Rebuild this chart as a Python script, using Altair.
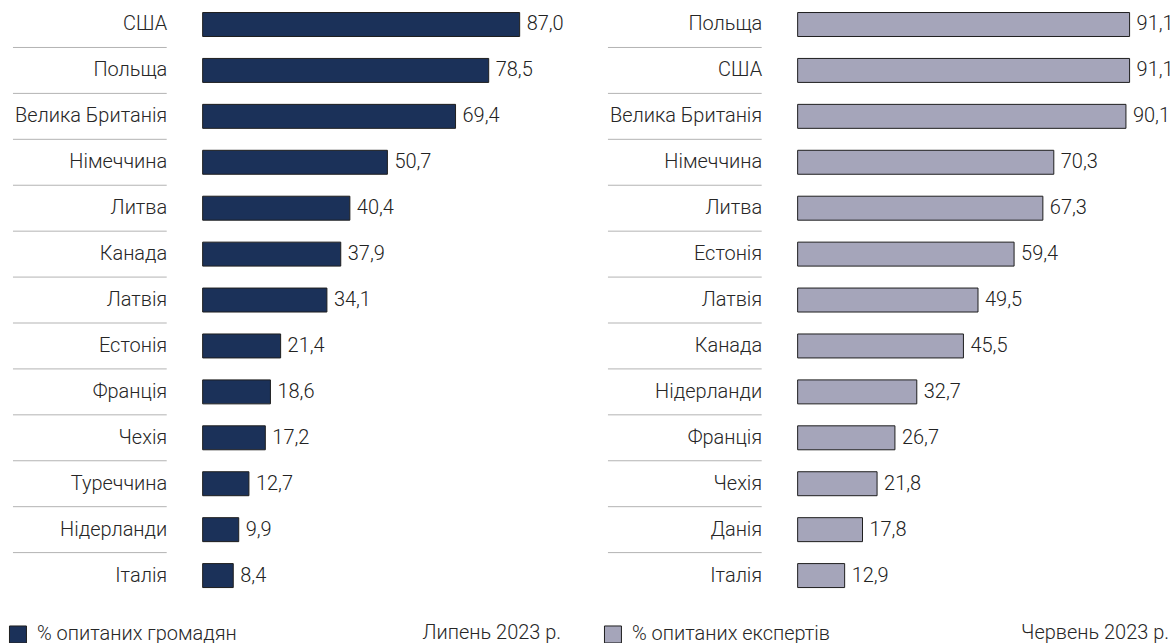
import altair as alt
import pandas as pd

FONT = "Roboto"

left_countries = ["США", "Польща", "Велика Британія", "Німеччина", "Литва", "Канада", "Латвія",
                  "Естонія", "Франція", "Чехія", "Туреччина", "Нідерланди", "Італія"]
left_values = [87.0, 78.5, 69.4, 50.7, 40.4, 37.9, 34.1, 21.4, 18.6, 17.2, 12.7, 9.9, 8.4]
left_series = "% опитаних громадян"
left_date = "Липень 2023 р."

right_countries = ["Польща", "США", "Велика Британія", "Німеччина", "Литва", "Естонія", "Латвія",
                   "Канада", "Нідерланди", "Франція", "Чехія", "Данія", "Італія"]
right_values = [91.1, 91.1, 90.1, 70.3, 67.3, 59.4, 49.5, 45.5, 32.7, 26.7, 21.8, 17.8, 12.9]
right_series = "% опитаних експертів"
right_date = "Червень 2023 р."

W = 365
H = 598


def panel(countries, values, series, fill, date, date_x):
    n = len(countries)
    df = pd.DataFrame({"country": countries, "value": values,
                       "series": [series] * n, "order": list(range(n))})
    base = alt.Chart(df)
    yscale = alt.Scale(paddingInner=0.478, paddingOuter=0.239)
    y_axis = alt.Y("country:N", sort=countries, scale=yscale,
                   axis=alt.Axis(title=None, domain=False, ticks=False, grid=False,
                                 labelPadding=36, labelFontSize=20, labelFont=FONT,
                                 labelFontWeight=300, labelColor="#262626", labelLimit=400))
    y_plain = alt.Y("country:N", sort=countries)
    xenc = alt.X("value:Q", scale=alt.Scale(domain=[0, 100]), axis=None)

    bars = base.mark_bar(stroke="#1e1e1e", strokeWidth=1).encode(
        x=xenc, y=y_axis,
        color=alt.Color("series:N", scale=alt.Scale(domain=[series], range=[fill]),
                        legend=alt.Legend(title=None, orient="none", legendX=-195, legendY=624,
                                          symbolType="square", symbolSize=289,
                                          symbolStrokeColor="#1e1e1e", symbolStrokeWidth=1,
                                          labelFont=FONT, labelFontSize=20, labelFontWeight=300,
                                          labelColor="#262626", labelOffset=9, padding=0,
                                          symbolOffset=0, labelLimit=400)),
    )
    labels = base.transform_calculate(
        label="replace(format(datum.value, '.1f'), '.', ',')"
    ).mark_text(align="left", baseline="middle", dx=7, font=FONT, fontSize=20,
                fontWeight=300, color="#222222").encode(x=xenc, y=y_plain, text="label:N")
    seps = base.transform_filter(f"datum.order < {n - 1}").mark_rule(
        yOffset=23, color="#b3b3b3", strokeWidth=1
    ).encode(x=alt.value(-190), x2=alt.value(-36), y=y_plain)
    cap = alt.Chart(alt.Data(values=[{"t": date}])).mark_text(
        align="right", baseline="alphabetic", font=FONT, fontSize=20, fontWeight=300,
        color="#262626"
    ).encode(x=alt.value(date_x), y=alt.value(639), text="t:N")
    return alt.layer(bars, labels, seps, cap).properties(width=W, height=H)


left = panel(left_countries, left_values, left_series, "#1b3159", left_date, 359)
right = panel(right_countries, right_values, right_series, "#a5a5ba", right_date, 372)

chart = alt.hconcat(left, right, spacing=231, bounds="flush").resolve_scale(
    color="independent", y="independent", x="independent"
).resolve_legend(color="independent").properties(
    padding={"left": 8, "top": 1, "right": 0, "bottom": 0}
).configure_view(stroke=None)

chart.save("out.html", embed_options={"renderer": "svg", "actions": False})
